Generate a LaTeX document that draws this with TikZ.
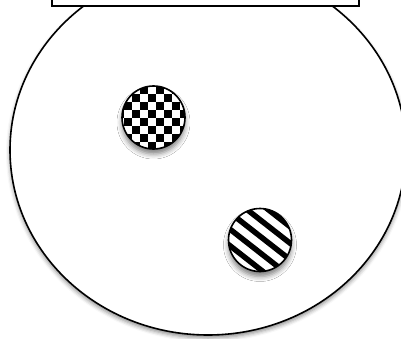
\documentclass[tikz,border=0pt]{standalone}
\usetikzlibrary{shapes.geometric,shadows.blur}
\tikzset{
  outline/.style={draw=black, line width=1.6pt, fill=white, inner sep=0pt},
  bowlshape/.style={outline, ellipse, minimum width=396pt, minimum height=370pt,
    blur shadow={shadow xshift=0pt, shadow yshift=-3pt, shadow blur radius=4pt, shadow opacity=45}},
  lidshape/.style={outline, rectangle, minimum width=307pt, minimum height=60pt},
  ballshape/.style={outline, circle, minimum size=63pt,
    blur shadow={shadow xshift=0pt, shadow yshift=-5pt, shadow blur radius=5pt, shadow opacity=50}},
  checkerball/.style={ballshape, path picture={
    \begin{scope}[shift={(path picture bounding box.center)}]
      \foreach \i in {-5,...,4}{\foreach \j in {-5,...,4}{
        \ifodd\numexpr\i+\j+20\relax
          \fill[black] (\i*8pt+2pt,\j*8pt-1pt) rectangle ++(8pt,8pt);
        \fi}}
    \end{scope}}},
  stripeball/.style={ballshape, path picture={
    \begin{scope}[shift={(path picture bounding box.center)}]
      \foreach \k in {-4,...,4}{
        \draw[black, line width=5.5pt]
          ({0.616*(\k*13+3)*1pt - 0.788*50pt}, {0.788*(\k*13+3)*1pt + 0.616*50pt}) --
          ({0.616*(\k*13+3)*1pt + 0.788*50pt}, {0.788*(\k*13+3)*1pt - 0.616*50pt});}
    \end{scope}}}
}
\begin{document}
\begin{tikzpicture}[x=1pt,y=-1pt]
\useasboundingbox (0,0) rectangle (401,339);
\node[bowlshape] (bowl) at (208,150) {};
\node[lidshape] (lid) at (205.5,-24) {};
\node[checkerball] (checker) at (153.5,117.5) {};
\node[stripeball] (stripes) at (260,240) {};
\end{tikzpicture}
\end{document}
